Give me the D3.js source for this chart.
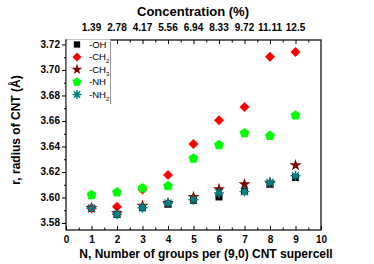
<!DOCTYPE html>
<html>
<head>
<meta charset="utf-8">
<script src="https://d3js.org/d3.v7.min.js"></script>
<style>
  body { margin: 0; background: #fff; }
  svg { font-family: "Liberation Sans", Arial, sans-serif; }
</style>
</head>
<body>
<svg id="chart" width="374" height="264"></svg>
<script>
// data
const groups = [1, 2, 3, 4, 5, 6, 7, 8, 9];
const concLabels = ["1.39", "2.78", "4.17", "5.56", "6.94", "8.33", "9.72", "11.11", "12.5"];
const ohVals  = [3.5915, 3.5868, 3.5920, 3.5947, 3.5978, 3.6004, 3.6051, 3.6104, 3.6156];
const ch2Vals = [3.5915, 3.5928, 3.6062, 3.6177, 3.6419, 3.6605, 3.6710, 3.7103, 3.7140];
const ch3Vals = [3.5918, 3.5876, 3.5936, 3.5957, 3.6004, 3.6065, 3.6104, 3.6115, 3.6253];
const nhVals  = [3.6020, 3.6041, 3.6073, 3.6090, 3.6306, 3.6411, 3.6505, 3.6484, 3.6644];
const nh2Vals = [3.5915, 3.5868, 3.5920, 3.5957, 3.5983, 3.6036, 3.6046, 3.6117, 3.6170];
const yTicks = [3.58, 3.60, 3.62, 3.64, 3.66, 3.68, 3.70, 3.72];

const series = [
  {name: "-OH", sub: "", vals: ohVals, color: "#000000", shape: "square"},
  {name: "-CH", sub: "2", vals: ch2Vals, color: "#ff0000", shape: "diamond"},
  {name: "-CH", sub: "3", vals: ch3Vals, color: "#800000", shape: "star"},
  {name: "-NH", sub: "", vals: nhVals, color: "#00ff00", shape: "pentagon"},
  {name: "-NH", sub: "2", vals: nh2Vals, color: "#008080", shape: "asterisk"}
];

const svg = d3.select("#chart");
const x = d3.scaleLinear().domain([0, 10]).range([66, 321]);
const y = d3.scaleLinear().domain([3.5745, 3.7235]).range([230, 40]);

function pentagonPath(r) {
  let p = "";
  for (let i = 0; i < 5; i++) {
    const a = -Math.PI / 2 + i * 2 * Math.PI / 5;
    p += (i ? "L" : "M") + (r * Math.cos(a)).toFixed(2) + "," + (r * Math.sin(a)).toFixed(2);
  }
  return p + "Z";
}
function asteriskPath(r) {
  let p = "";
  for (let i = 0; i < 4; i++) {
    const a = i * Math.PI / 4;
    const dx = r * Math.cos(a), dy = r * Math.sin(a);
    p += "M" + (-dx).toFixed(2) + "," + (-dy).toFixed(2) + "L" + dx.toFixed(2) + "," + dy.toFixed(2);
  }
  return p;
}
function drawMarker(g, shape, color, k) {
  if (shape === "square") {
    g.append("rect").attr("x", -3.5 * k).attr("y", -3.5 * k)
      .attr("width", 7 * k).attr("height", 7 * k).attr("fill", color);
  } else if (shape === "diamond") {
    g.append("path").attr("d", d3.symbol(d3.symbolSquare, 50 * k * k)())
      .attr("transform", "rotate(45)").attr("fill", color);
  } else if (shape === "star") {
    g.append("path").attr("d", d3.symbol(d3.symbolStar, 45 * k * k)()).attr("fill", color);
  } else if (shape === "pentagon") {
    g.append("path").attr("d", pentagonPath(5.2 * k)).attr("fill", color);
  } else {
    g.append("path").attr("d", asteriskPath(5 * k)).attr("stroke", color)
      .attr("stroke-width", 1.4).attr("fill", "none");
    g.append("rect").attr("x", -2.5 * k).attr("y", -2.5 * k)
      .attr("width", 5 * k).attr("height", 5 * k).attr("fill", color);
  }
}

// frame
svg.append("rect").attr("x", 66).attr("y", 40).attr("width", 255).attr("height", 190)
  .attr("fill", "none").attr("stroke", "#000").attr("stroke-width", 1.2);

// bottom axis, ticks inside
const bottomAx = svg.append("g").attr("transform", "translate(0,230)");
bottomAx.call(d3.axisBottom(x).tickValues(d3.range(0, 10.01, 0.5)).tickSize(0).tickFormat(""));
bottomAx.select(".domain").remove();
bottomAx.selectAll(".tick line").attr("y2", d => Number.isInteger(d) ? -4 : -2.5).attr("stroke-width", 1);
bottomAx.selectAll(".tick").filter(d => Number.isInteger(d)).append("text")
  .attr("y", 13).attr("fill", "#000").attr("text-anchor", "middle")
  .style("font-size", "10px").style("font-weight", "bold").text(d => d);

// top axis, ticks inside, concentration labels
const topAx = svg.append("g").attr("transform", "translate(0,40)");
topAx.call(d3.axisTop(x).tickValues(d3.range(0.5, 10, 0.5)).tickSize(0).tickFormat(""));
topAx.select(".domain").remove();
topAx.selectAll(".tick line").attr("y2", d => Number.isInteger(d) ? 4 : 2.5).attr("stroke-width", 1);
svg.append("g").selectAll("text").data(groups).join("text")
  .attr("x", d => x(d)).attr("y", 31).attr("text-anchor", "middle")
  .style("font-size", "10px").style("font-weight", "bold")
  .text((d, i) => concLabels[i]);

// left axis, ticks outside
const leftAx = svg.append("g").attr("transform", "translate(66,0)");
leftAx.call(d3.axisLeft(y).tickValues(d3.range(3.58, 3.7201, 0.01)).tickSize(0).tickFormat(""));
leftAx.select(".domain").remove();
leftAx.selectAll(".tick line").attr("x2", (d, i) => i % 2 === 0 ? -4 : -2).attr("stroke-width", 1);
svg.append("g").selectAll("text").data(yTicks).join("text")
  .attr("x", 60).attr("y", d => y(d)).attr("dy", "0.35em").attr("text-anchor", "end")
  .style("font-size", "10px").style("font-weight", "bold").text(d => d.toFixed(2));

// legend box covers the top-left corner of the frame
svg.append("rect").attr("x", 66.8).attr("y", 39.4).attr("width", 43.5).attr("height", 66.5).attr("fill", "#fff");
svg.append("line").attr("x1", 110.5).attr("x2", 110.5).attr("y1", 40).attr("y2", 104)
  .attr("stroke", "#999").attr("stroke-width", 1);

// markers
series.forEach(s => {
  svg.append("g").selectAll("g").data(s.vals).join("g")
    .attr("transform", (d, i) => `translate(${x(groups[i])},${y(d)})`)
    .each(function () { drawMarker(d3.select(this), s.shape, s.color, 1); });
});

// legend entries
series.forEach((s, i) => {
  const ly = 44.5 + i * 12.5;
  const g = svg.append("g").attr("transform", `translate(77,${ly})`);
  drawMarker(g, s.shape, s.color, 0.9);
  const t = svg.append("text").attr("x", 89).attr("y", ly).attr("dy", "0.35em")
    .style("font-size", "9.5px").attr("fill", "#000").text(s.name);
  if (s.sub) t.append("tspan").attr("dy", 3).style("font-size", "6px").text(s.sub);
});

// titles
svg.append("text").attr("x", 193).attr("y", 16).attr("text-anchor", "middle")
  .style("font-size", "13px").style("font-weight", "bold").text("Concentration (%)");
svg.append("text").attr("x", 206).attr("y", 258).attr("text-anchor", "middle")
  .style("font-size", "12px").style("font-weight", "bold")
  .text("N, Number of groups per (9,0) CNT supercell");
svg.append("text").attr("transform", "translate(20,130) rotate(-90)").attr("text-anchor", "middle")
  .style("font-size", "12px").style("font-weight", "bold").text("r, radius of CNT (Å)");
</script>
</body>
</html>
